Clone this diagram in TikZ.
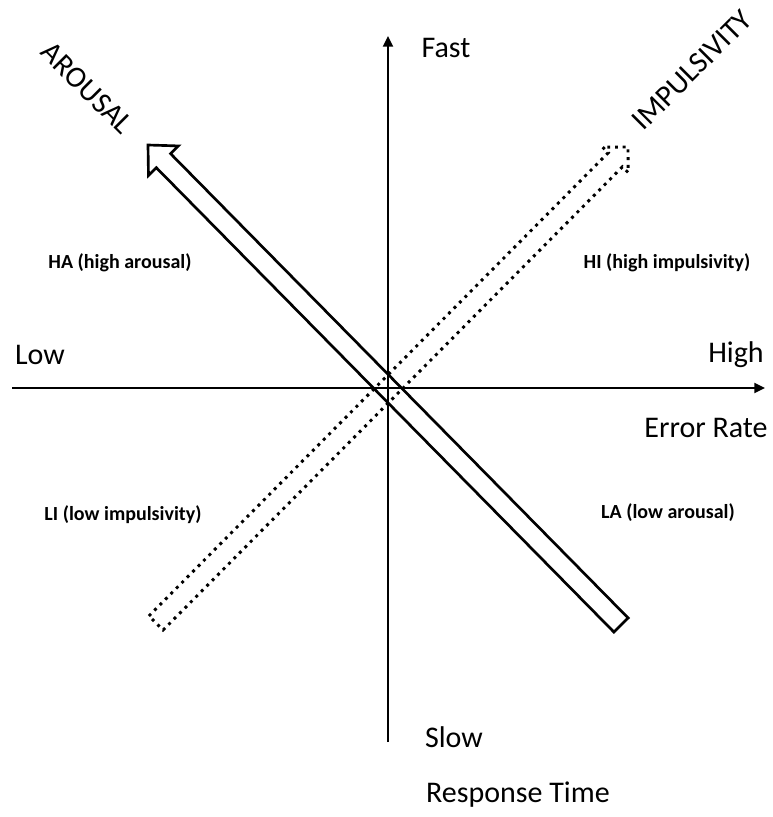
\documentclass[tikz,border=0pt]{standalone}
\usepackage{fontspec}
\setmainfont{Carlito}
\usetikzlibrary{positioning, arrows.meta, calc}

% block arrow: style, tail, tip, head half width, head length
\newcommand{\blockarrow}[5]{%
  \path ($(#3)!#5!(#2)$) coordinate (bah);
  \draw[#1] ($(#2)!7.5pt!90:(#3)$) -- ($(bah)!7.5pt!90:(#3)$) -- ($(bah)!#4!90:(#3)$) -- (#3)
    -- ($(bah)!#4!-90:(#3)$) -- ($(bah)!7.5pt!-90:(#3)$) -- ($(#2)!7.5pt!-90:(#3)$) -- cycle;
}

\begin{document}
\begin{tikzpicture}[x=0.75pt, y=-0.75pt,
                axis/.style={line width=1.5pt, -{Triangle[length=8pt, width=7.5pt]}},
                solidarrow/.style={line width=2pt, line join=miter},
                dotarrow/.style={line width=2.2pt, dash pattern=on 2.2pt off 3.6pt},
                axlabel/.style={font=\fontsize{22.5}{27}\selectfont},
                zonelabel/.style={font=\fontsize{15}{18}\selectfont\bfseries}
            ]
            \useasboundingbox (0,0) rectangle (773,817);

            % Achsen
            \coordinate (origin) at (388,388);
            \coordinate (top) at (388,36);
            \coordinate (bottom) at (388,742);
            \coordinate (left) at (12,388);
            \coordinate (right) at (765,388);
            \draw[axis] (bottom) -- (top);
            \draw[axis] (left) -- (right);

            % Blockpfeile
            \coordinate (ltail) at (156,623);
            \coordinate (ltip) at (628,147);
            \coordinate (rtail) at (621,625);
            \coordinate (rtip) at (148,145);
            \blockarrow{dotarrow}{ltail}{ltip}{13.5pt}{13.5pt}
            \blockarrow{solidarrow}{rtail}{rtip}{15.75pt}{16.5pt}

            % Beschriftungen
            \node[axlabel] (fast) at (446,48) {Fast};
            \node[axlabel] (slow) at (454,737) {Slow};
            \node[axlabel] (resp) at (518,795) {Response Time};
            \node[axlabel] (low) at (40,355) {Low};
            \node[axlabel] (high) at (736,355) {High};
            \node[axlabel] (err) at (706,428) {Error Rate};
            \node[axlabel, rotate=-45] (arousal) at (87,88) {AROUSAL};
            \node[axlabel, rotate=45] (impuls) at (692,70) {IMPULSIVITY};
            \node[zonelabel] (ha) at (120,263) {HA (high arousal)};
            \node[zonelabel] (hi) at (667,263) {HI (high impulsivity)};
            \node[zonelabel] (li) at (123,515) {LI (low impulsivity)};
            \node[zonelabel] (la) at (668,513) {LA (low arousal)};

\end{tikzpicture}
\end{document}
